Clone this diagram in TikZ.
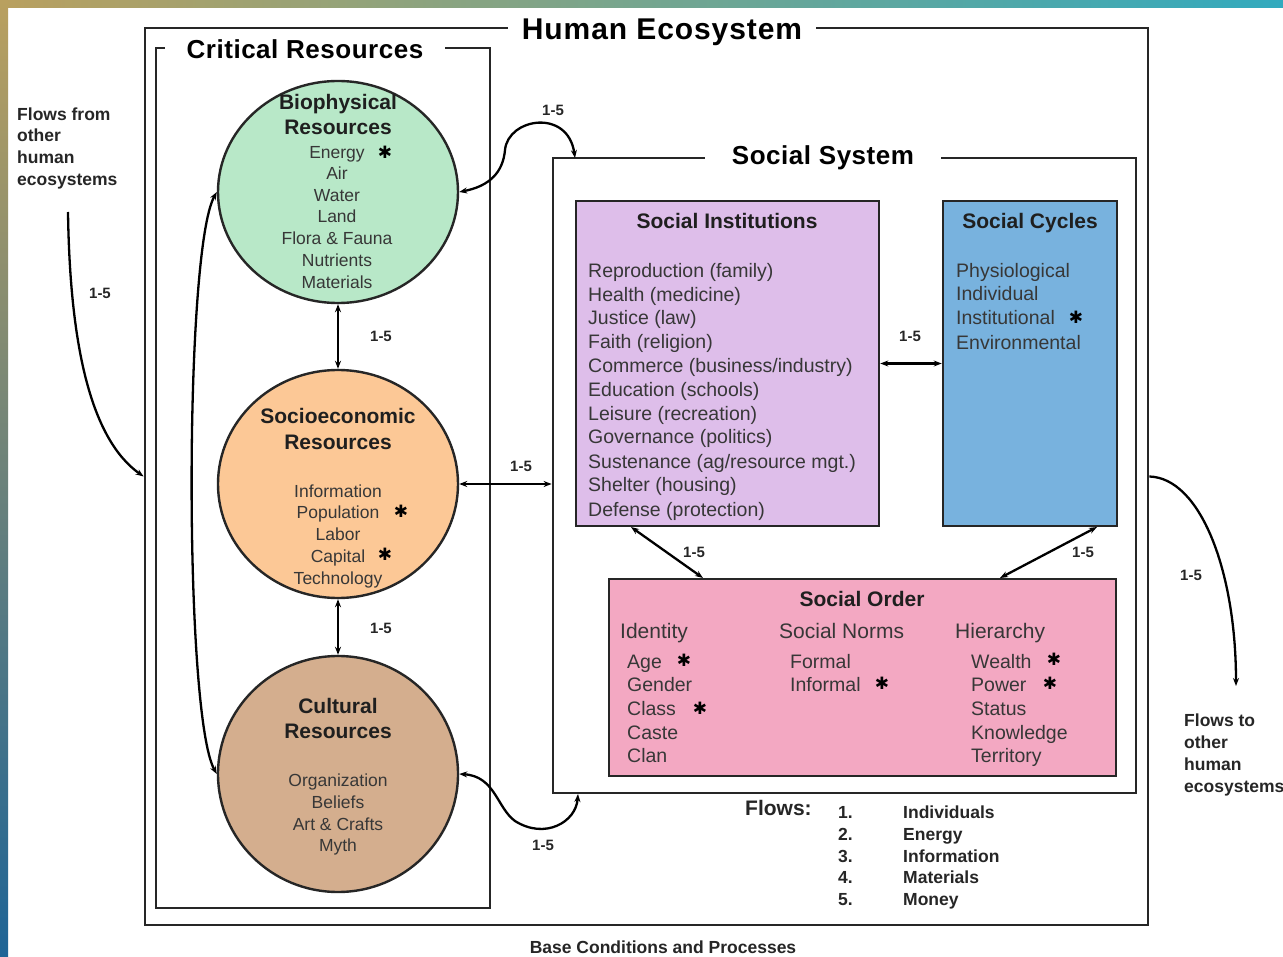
\documentclass[tikz,border=0pt]{standalone}
\usepackage{fontspec}
\setmainfont{Liberation Sans}
\newfontfamily\symfont{DejaVu Sans}
\usetikzlibrary{shapes.geometric,arrows.meta}
\definecolor{bioG}{RGB}{184,232,200}
\definecolor{socO}{RGB}{252,200,150}
\definecolor{culB}{RGB}{212,174,142}
\definecolor{instL}{RGB}{222,190,234}
\definecolor{cycB}{RGB}{120,178,222}
\definecolor{ordP}{RGB}{243,168,194}
\definecolor{txtG}{RGB}{55,55,55}
\definecolor{goldT}{RGB}{185,160,95}
\definecolor{tealT}{RGB}{50,170,190}
\definecolor{deepB}{RGB}{30,100,150}
\begin{document}
\begin{tikzpicture}[x=1pt,y=-1pt,
  frame/.style={draw=black!85, line width=2.8pt, inner sep=0pt},
  boxf/.style={draw=black!85, line width=2.6pt, inner sep=0pt},
  circ/.style={ellipse, draw=black!85, line width=2.4pt, inner sep=0pt, minimum width=240pt},
  bigtitle/.style={fill=white, inner ysep=1pt, font=\bfseries\fontsize{30}{32}\selectfont\addfontfeatures{LetterSpace=3}},
  midtitle/.style={fill=white, inner ysep=1pt, font=\bfseries\fontsize{26}{30}\selectfont\addfontfeatures{LetterSpace=2}},
  boxtitle/.style={inner sep=0pt, text=black!88, font=\bfseries\fontsize{21}{24}\selectfont, text height=18pt, text depth=3pt},
  item/.style={inner sep=0pt, text=txtG, font=\fontsize{19.5}{22}\selectfont, text height=17pt, text depth=3pt, anchor=west},
  head/.style={inner sep=0pt, text=txtG, font=\fontsize{21}{24}\selectfont, text height=18pt, text depth=3pt, anchor=west},
  ctitle/.style={inner sep=0pt, text=black!88, font=\bfseries\fontsize{21}{24}\selectfont, text height=18pt, text depth=3pt},
  citem/.style={inner sep=0pt, text=txtG, font=\fontsize{17.5}{20}\selectfont, text height=15.6pt, text depth=3pt},
  star/.style={inner sep=0pt, text=black, font=\symfont\fontsize{17}{17}\selectfont},
  lbl/.style={inner sep=0pt, text=black!85, font=\bfseries\fontsize{15}{17}\selectfont},
  side/.style={inner sep=0pt, anchor=west, text=black!85, font=\bfseries\fontsize{17.5}{19}\selectfont, text height=15pt, text depth=3pt},
  arr/.style={line width=2.3pt, -{Stealth[length=8pt,width=6pt]}},
  darr/.style={line width=2.3pt, {Stealth[length=8pt,width=6pt]}-{Stealth[length=8pt,width=6pt]}}
]
\useasboundingbox (0,0) rectangle (1283,957);
\fill[white] (0,0) rectangle (1283,957);
\shade[left color=goldT, right color=tealT] (0,0) rectangle (1283,8);
\shade[top color=goldT, bottom color=deepB] (0,0) rectangle (8,957);

% frames
\node[frame, minimum width=1003pt, minimum height=897pt] (human) at (646.5,476.5) {};
\node[bigtitle, inner xsep=14pt] (humanT) at (662,32) {Human Ecosystem};
\node[frame, minimum width=334pt, minimum height=860pt] (crit) at (323,478) {};
\node[midtitle, inner xsep=22pt] (critT) at (305,49) {Critical Resources};
\node[frame, minimum width=583pt, minimum height=635pt] (ss) at (844.5,475.5) {};
\node[midtitle, inner xsep=27pt] (ssT) at (823,158) {Social System};

% boxes
\node[boxf, fill=instL, minimum width=303pt, minimum height=325pt] (inst) at (727.5,363.5) {};
\node[boxf, fill=cycB, minimum width=174pt, minimum height=325pt] (cyc) at (1030,363.5) {};
\node[boxf, fill=ordP, minimum width=507pt, minimum height=197pt] (ord) at (862.5,677.5) {};

% circles
\node[circ, fill=bioG, minimum height=222pt] (bio) at (338,192) {};
\node[circ, fill=socO, minimum height=228pt] (soc) at (338,484) {};
\node[circ, fill=culB, minimum height=236pt] (cul) at (338,774) {};

% circle texts
\node[ctitle] (bioT1) at (338,102) {Biophysical};
\node[ctitle] (bioT2) at (338,127) {Resources};
\foreach \t/\y [count=\i] in {Energy/152,Air/173,Water/195,Land/216,Flora \& Fauna/238,Nutrients/260,Materials/282}
  \node[citem] (bioI\i) at (337,\y) {\t};
\node[star] (bioS) at (385,152) {✱};

\node[ctitle] (socT1) at (338,416) {Socioeconomic};
\node[ctitle] (socT2) at (338,442) {Resources};
\foreach \t/\y [count=\i] in {Information/491,Population/512,Labor/534,Capital/556,Technology/578}
  \node[citem] (socI\i) at (338,\y) {\t};
\node[star] (socS1) at (401,511) {✱};
\node[star] (socS2) at (385,554) {✱};

\node[ctitle] (culT1) at (338,706) {Cultural};
\node[ctitle] (culT2) at (338,731) {Resources};
\foreach \t/\y [count=\i] in {Organization/780,Beliefs/802,Art \& Crafts/824,Myth/845}
  \node[citem] (culI\i) at (338,\y) {\t};

% social institutions
\node[boxtitle] (instT) at (727,221) {Social Institutions};
\foreach \t/\y [count=\i] in {Reproduction (family)/271,Health (medicine)/295,Justice (law)/318,Faith (religion)/342,Commerce (business\slash industry)/366,Education (schools)/390,Leisure (recreation)/414,Governance (politics)/437,Sustenance (ag\slash resource mgt.)/461,Shelter (housing)/485,Defense (protection)/509}
  \node[item] (instI\i) at (588,\y) {\t};

% social cycles
\node[boxtitle] (cycT) at (1030,221) {Social Cycles};
\foreach \t/\y [count=\i] in {Physiological/271,Individual/294,Institutional/318,Environmental/343}
  \node[item] (cycI\i) at (956,\y) {\t};
\node[star] (cycS) at (1076,317) {✱};

% social order
\node[boxtitle] (ordT) at (862,599) {Social Order};
\node[head] (ordH1) at (620,631) {Identity};
\node[head] (ordH2) at (779,631) {Social Norms};
\node[head] (ordH3) at (955,631) {Hierarchy};
\foreach \t/\y [count=\i] in {Age/661,Gender/684,Class/708,Caste/732,Clan/755}
  \node[item] (idI\i) at (627,\y) {\t};
\foreach \t/\y [count=\i] in {Formal/661,Informal/684}
  \node[item] (nmI\i) at (790,\y) {\t};
\foreach \t/\y [count=\i] in {Wealth/661,Power/684,Status/708,Knowledge/732,Territory/755}
  \node[item] (hiI\i) at (971,\y) {\t};
\node[star] (ordS1) at (684,660) {✱};
\node[star] (ordS2) at (700,708) {✱};
\node[star] (ordS3) at (882,683) {✱};
\node[star] (ordS4) at (1054,659) {✱};
\node[star] (ordS5) at (1050,683) {✱};

% coordinates for curved connectors
\coordinate (ssA) at (575,158);
\coordinate (ssB) at (578,794);
\coordinate (ffStart) at (68,212);
\coordinate (ftEnd) at (1236,686);

% connectors
\draw[darr] (bio.south) -- (soc.north);
\draw[darr] (soc.south) -- (cul.north);
\draw[darr] (bio.west) .. controls (184,250) and (184,716) .. (cul.west);
\draw[darr] (bio.east) .. controls (490,186) and (503,172) .. (505,150) .. controls (508,118) and (568,108) .. (ssA);
\draw[darr] (soc.east) -- (soc.east -| ss.west);
\draw[darr] (cul.east) .. controls (495,776) and (497,808) .. (515,821) .. controls (545,840) and (576,822) .. (ssB);
\draw[darr] (inst.east) -- (cyc.west);
\draw[darr] (631,527) -- (703,578);
\draw[darr] (1097,527) -- (1000,578);
\draw[arr] (ffStart) .. controls (70,350) and (92,440) .. (human.west);
\draw[arr] (human.east) .. controls (1200,478) and (1236,570) .. (ftEnd);

% labels 1-5
\node[lbl] (l1) at (553,110) {1-5};
\node[lbl] (l2) at (381,336) {1-5};
\node[lbl] (l3) at (381,628) {1-5};
\node[lbl] (l4) at (521,466) {1-5};
\node[lbl] (l5) at (543,845) {1-5};
\node[lbl] (l6) at (910,336) {1-5};
\node[lbl] (l7) at (694,552) {1-5};
\node[lbl] (l8) at (1083,552) {1-5};
\node[lbl] (l9) at (100,293) {1-5};
\node[lbl] (l10) at (1191,575) {1-5};

% side texts
\foreach \t/\y [count=\i] in {Flows from/115,other/136,human/158,ecosystems/180}
  \node[side] (ff\i) at (17,\y) {\t};
\foreach \t/\y [count=\i] in {Flows to/720,other/742,human/764,ecosystems/786}
  \node[side] (ft\i) at (1184,\y) {\t};

% legend
\node[inner sep=0pt, anchor=west, text=black!85, font=\bfseries\fontsize{21}{24}\selectfont] (flowsL) at (745,808) {Flows:};
\foreach \n/\t/\y in {1/Individuals/812,2/Energy/834,3/Information/856,4/Materials/877,5/Money/899}{
  \node[side] (fn\n) at (838,\y) {\n.};
  \node[side] (fw\n) at (903,\y) {\t};
}
\node[inner sep=0pt, text=black!85, font=\bfseries\fontsize{17.5}{19}\selectfont] (base) at (663,947) {Base Conditions and Processes};
\end{tikzpicture}
\end{document}
